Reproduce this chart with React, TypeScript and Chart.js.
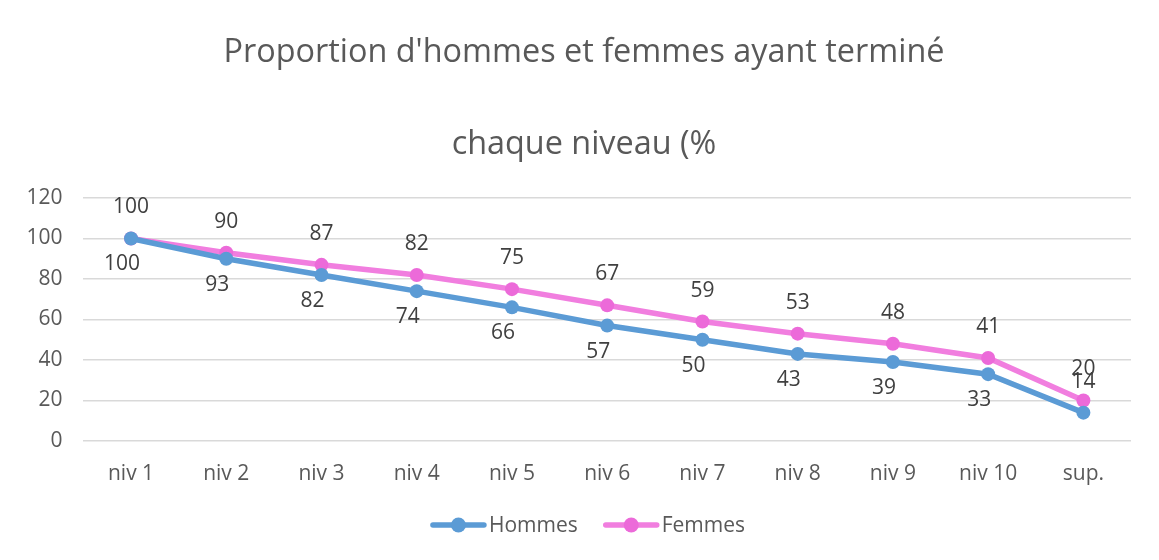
import React, { useEffect, useRef } from 'react';
import { Chart, registerables } from 'chart.js';

Chart.register(...registerables);

const categories = ['niv 1', 'niv 2', 'niv 3', 'niv 4', 'niv 5', 'niv 6', 'niv 7', 'niv 8', 'niv 9', 'niv 10', 'sup.'];
const hommesValues = [100, 90, 82, 74, 66, 57, 50, 43, 39, 33, 14];
const femmesValues = [100, 93, 87, 82, 75, 67, 59, 53, 48, 41, 20];
const hommesLabels = ['100', '93', '82', '74', '66', '57', '50', '43', '39', '33', '14'];
const femmesLabels = ['100', '90', '87', '82', '75', '67', '59', '53', '48', '41', '20'];
const titleLines = ["Proportion d'hommes et femmes ayant terminé", 'chaque niveau (%'];

const FONT = "'Open Sans', sans-serif";
const TEXT = '#595959';
const LABEL = '#404040';
const GRID = '#d9d9d9';
const BLUE = '#5b9bd5';
const PINK_LINE = '#f17edf';
const PINK_PT = '#ec6ad9';

const titlePlugin = {
  id: 'centeredTitle',
  afterDraw(chart: any) {
    const ctx = chart.ctx;
    const opts = chart.options.plugins.centeredTitle;
    ctx.save();
    ctx.font = `${opts.size}px ${FONT}`;
    ctx.fillStyle = TEXT;
    ctx.textAlign = 'center';
    ctx.textBaseline = 'middle';
    opts.lines.forEach((line: string, i: number) => {
      ctx.fillText(line, opts.x, opts.y + i * opts.lineHeight);
    });
    ctx.restore();
  },
};

const labelsPlugin = {
  id: 'pointLabels',
  afterDatasetsDraw(chart: any) {
    const ctx = chart.ctx;
    ctx.save();
    ctx.font = `21px ${FONT}`;
    ctx.fillStyle = LABEL;
    ctx.textAlign = 'center';
    ctx.textBaseline = 'middle';
    chart.data.datasets.forEach((ds: any, di: number) => {
      const meta = chart.getDatasetMeta(di);
      meta.data.forEach((pt: any, i: number) => {
        const pos = ds.labelPos[i];
        const dx = pos === 'below' ? -9 : 0;
        const dy = pos === 'below' ? 26 : -31;
        ctx.fillText(ds.pointLabels[i], pt.x + dx, pt.y + dy);
      });
    });
    ctx.restore();
  },
};

const legendPlugin = {
  id: 'lineLegend',
  afterDraw(chart: any) {
    const ctx = chart.ctx;
    ctx.save();
    ctx.font = `21px ${FONT}`;
    ctx.textBaseline = 'middle';
    ctx.textAlign = 'left';
    const symW = 55;
    const gap = 3;
    const itemGap = 26;
    const items = chart.data.datasets.map((ds: any) => ({
      ds,
      w: symW + gap + ctx.measureText(ds.label).width,
    }));
    const total = items.reduce((a: number, it: any) => a + it.w, 0) + itemGap * (items.length - 1);
    let x = 580 - total / 2;
    const y = 517;
    items.forEach((it: any) => {
      ctx.strokeStyle = it.ds.borderColor;
      ctx.lineWidth = 5.5;
      ctx.lineCap = 'round';
      ctx.beginPath();
      ctx.moveTo(x + 2, y);
      ctx.lineTo(x + symW - 2, y);
      ctx.stroke();
      ctx.fillStyle = it.ds.pointBackgroundColor;
      ctx.beginPath();
      ctx.arc(x + symW / 2, y, 7.5, 0, Math.PI * 2);
      ctx.fill();
      ctx.fillStyle = TEXT;
      ctx.fillText(it.ds.label, x + symW + gap, y + 1);
      x += it.w + itemGap;
    });
    ctx.restore();
  },
};

export default function App() {
  const ref = useRef<HTMLCanvasElement>(null);
  useEffect(() => {
    if (!ref.current) return;
    const chart = new Chart(ref.current, {
      type: 'line',
      data: {
        labels: categories,
        datasets: [
          {
            label: 'Hommes',
            data: hommesValues,
            borderColor: BLUE,
            backgroundColor: BLUE,
            pointBackgroundColor: BLUE,
            pointBorderColor: BLUE,
            borderWidth: 5.5,
            pointRadius: 7,
            pointBorderWidth: 0,
            tension: 0,
            pointLabels: hommesLabels,
            labelPos: ['below', 'below', 'below', 'below', 'below', 'below', 'below', 'below', 'below', 'below', 'above'],
          } as any,
          {
            label: 'Femmes',
            data: femmesValues,
            borderColor: PINK_LINE,
            backgroundColor: PINK_PT,
            pointBackgroundColor: PINK_PT,
            pointBorderColor: PINK_PT,
            borderWidth: 5.5,
            pointRadius: 7,
            pointBorderWidth: 0,
            tension: 0,
            pointLabels: femmesLabels,
            labelPos: ['above', 'above', 'above', 'above', 'above', 'above', 'above', 'above', 'above', 'above', 'above'],
          } as any,
        ],
      },
      options: {
        animation: false,
        responsive: false,
        maintainAspectRatio: false,
        layout: { padding: { left: 0, right: 28, top: 190, bottom: 59 } },
        plugins: {
          legend: { display: false },
          tooltip: { enabled: false },
          title: { display: false },
          centeredTitle: { lines: titleLines, size: 32.4, x: 576, y: 45, lineHeight: 92 },
        } as any,
        scales: {
          x: {
            offset: true,
            grid: { display: false, drawTicks: false },
            border: { display: false },
            ticks: { color: TEXT, font: { family: FONT, size: 21 }, padding: 20 },
            afterFit: (s: any) => { s.height = 60; },
          },
          y: {
            min: 0,
            max: 120,
            ticks: { stepSize: 20, color: TEXT, font: { family: FONT, size: 21 }, padding: 21 },
            grid: { color: GRID, lineWidth: 1.5, drawTicks: false },
            border: { display: false },
            afterFit: (s: any) => { s.width = 75.4; },
          },
        },
      },
      plugins: [titlePlugin, labelsPlugin, legendPlugin],
    });
    return () => chart.destroy();
  }, []);
  return (
    <div style={{ position: 'relative', width: 1151, height: 552, overflow: 'visible' }}>
      <div style={{ position: 'absolute', left: -1, top: -1, width: 1152, height: 553, borderLeft: `1px solid ${GRID}`, borderTop: `1px solid ${GRID}`, boxSizing: 'border-box' }} />
      <canvas ref={ref} width={1151} height={552} style={{ position: 'absolute', left: 0, top: 0, width: 1151, height: 552 }} />
    </div>
  );
}
